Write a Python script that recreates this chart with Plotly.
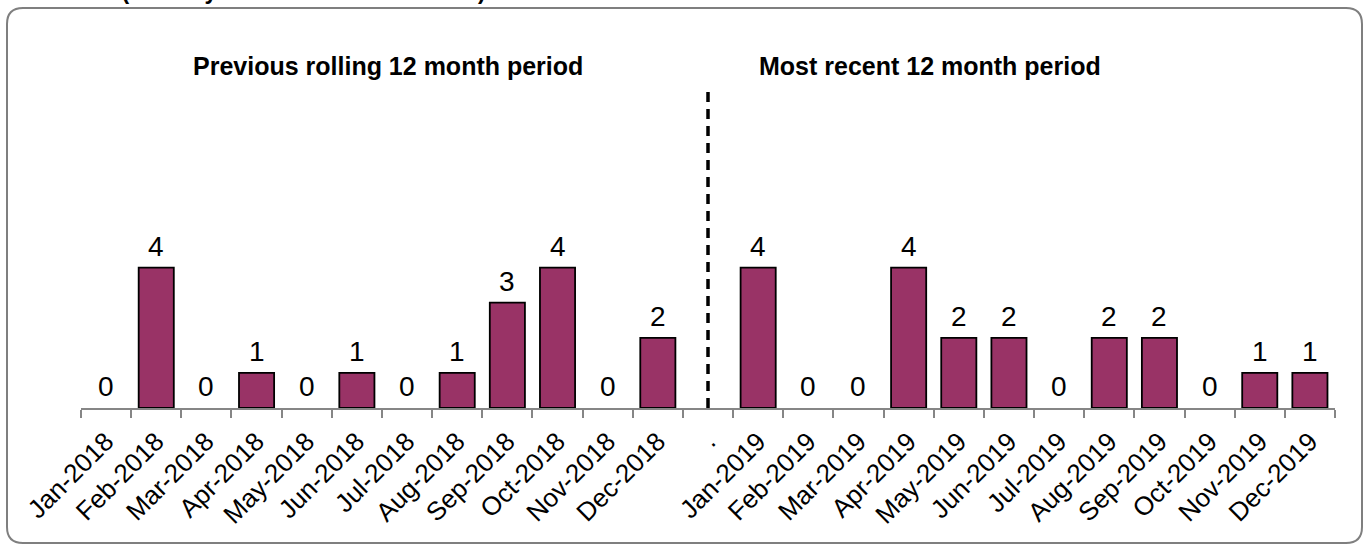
import plotly.graph_objects as go

# Monthly counts, two rolling 12-month periods split by a "." spacer category
months_2018 = ["Jan-2018", "Feb-2018", "Mar-2018", "Apr-2018", "May-2018", "Jun-2018",
               "Jul-2018", "Aug-2018", "Sep-2018", "Oct-2018", "Nov-2018", "Dec-2018"]
counts_2018 = [0, 4, 0, 1, 0, 1, 0, 1, 3, 4, 0, 2]

separator = "."

months_2019 = ["Jan-2019", "Feb-2019", "Mar-2019", "Apr-2019", "May-2019", "Jun-2019",
               "Jul-2019", "Aug-2019", "Sep-2019", "Oct-2019", "Nov-2019", "Dec-2019"]
counts_2019 = [4, 0, 0, 4, 2, 2, 0, 2, 2, 0, 1, 1]

categories = months_2018 + [separator] + months_2019
values = counts_2018 + [None] + counts_2019

title_text = "24 months (January 2018 to December 2019)"
left_heading = "Previous rolling 12 month period"
right_heading = "Most recent 12 month period"

W, H = 1369, 546
ML, MR, MT, MB = 81, 34, 92, 138
Y_MAX = 9

BAR_COLOR = "#993366"
AXIS_GRAY = "#868686"
FONT = "Liberation Sans, Arial, sans-serif"

plot_w = W - ML - MR
plot_h = H - MT - MB


def px_x(px):
    return (px - ML) / plot_w


def px_y(py):
    return (H - MB - py) / plot_h


# zero-height bars get no outline so nothing is drawn for them
outline_widths = [1.8 if v else 0 for v in values]

fig = go.Figure()
fig.add_trace(go.Bar(
    x=categories,
    y=values,
    width=0.7,
    marker=dict(color=BAR_COLOR, line=dict(color="#000000", width=outline_widths)),
    hoverinfo="x+y",
))

# Value labels above each bar
for cat, val in zip(categories, values):
    if val is None:
        continue
    fig.add_annotation(
        x=cat, y=val, xref="x", yref="y",
        text=str(val), showarrow=False,
        yanchor="bottom", yshift=4,
        font=dict(family=FONT, size=28, color="#000000"),
    )

# Dashed divider between the two periods
fig.add_shape(
    type="line", xref="x", yref="y",
    x0=separator, x1=separator, y0=0, y1=Y_MAX,
    line=dict(color="#000000", width=3.5, dash="10px,7px"),
)

# Period headings
fig.add_annotation(
    x=px_x(388), y=px_y(66), xref="paper", yref="paper",
    text="<b>%s</b>" % left_heading, showarrow=False,
    xanchor="center", yanchor="middle",
    font=dict(family=FONT, size=25, color="#000000"),
)
fig.add_annotation(
    x=px_x(930), y=px_y(66), xref="paper", yref="paper",
    text="<b>%s</b>" % right_heading, showarrow=False,
    xanchor="center", yanchor="middle",
    font=dict(family=FONT, size=25, color="#000000"),
)

# Chart title sitting at the top edge of the page
fig.add_annotation(
    x=px_x(-2), y=px_y(6), xref="paper", yref="paper",
    text="<b>%s</b>" % title_text, showarrow=False,
    xanchor="left", yanchor="bottom",
    font=dict(family=FONT, size=23, color="#000000"),
)

# Rounded frame around the chart area
x0, x1 = px_x(7), px_x(1362)
y0, y1 = px_y(8), px_y(543)
rx = 16 / plot_w
ry = 16 / plot_h
frame = (
    f"M {x0 + rx} {y0} L {x1 - rx} {y0} Q {x1} {y0} {x1} {y0 - ry} "
    f"L {x1} {y1 + ry} Q {x1} {y1} {x1 - rx} {y1} "
    f"L {x0 + rx} {y1} Q {x0} {y1} {x0} {y1 + ry} "
    f"L {x0} {y0 - ry} Q {x0} {y0} {x0 + rx} {y0} Z"
)
fig.add_shape(type="path", xref="paper", yref="paper", path=frame,
              line=dict(color="#7f7f7f", width=2), layer="below")

fig.update_layout(
    width=W, height=H,
    margin=dict(l=ML, r=MR, t=MT, b=MB),
    paper_bgcolor="#ffffff",
    plot_bgcolor="#ffffff",
    showlegend=False,
    bargap=0.3,
    font=dict(family=FONT, color="#000000"),
)
fig.update_xaxes(
    type="category",
    categoryorder="array", categoryarray=categories,
    showline=True, linecolor=AXIS_GRAY, linewidth=2,
    ticks="outside", tickson="boundaries", ticklen=8,
    tickcolor=AXIS_GRAY, tickwidth=2,
    tickangle=-45, ticklabelstandoff=6,
    tickfont=dict(family=FONT, size=26, color="#000000"),
    showgrid=False, zeroline=False,
)
fig.update_yaxes(
    range=[0, Y_MAX], visible=False, showgrid=False, zeroline=False,
)

fig.write_html("out.html")
